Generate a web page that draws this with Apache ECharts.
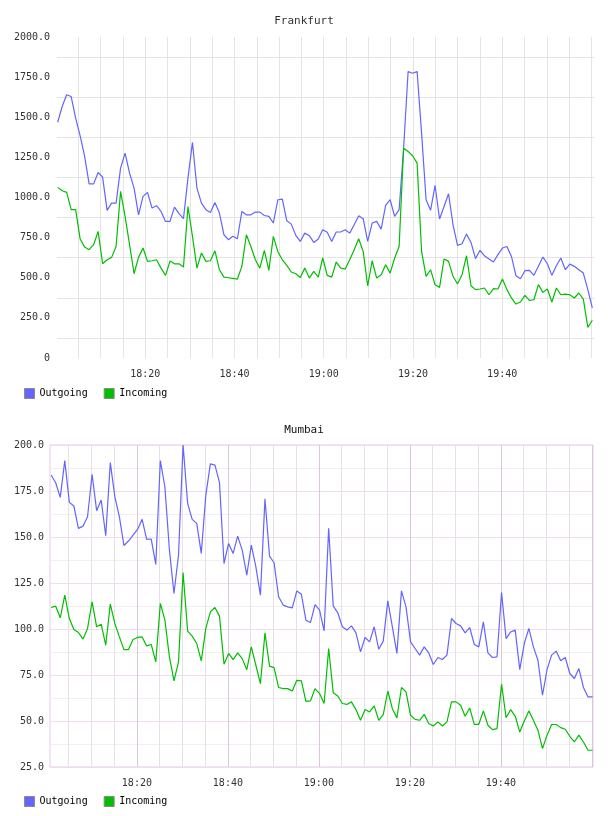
<!DOCTYPE html>
<html><head><meta charset="utf-8">
<script src="https://cdn.jsdelivr.net/npm/echarts@6/dist/echarts.min.js"></script>
<style>html,body{margin:0;padding:0;background:#fff}#c{width:608px;height:816px}</style>
</head><body><div id="c"></div>
<script>
// ---- data ----
const chartTitles = ['Frankfurt', 'Mumbai'];
const seriesNames = ['Outgoing', 'Incoming'];
const baseHour = 18;                       // axis minutes counted from 18:00
const xLabelMinutes = [20, 40, 60, 80, 100]; // 18:20 ... 19:40
const frankfurtStartMin = 0.38, frankfurtStepMin = 1.0069;
const mumbaiStartMin = 1.15, mumbaiStepMin = 1.0;
const frankfurtYRange = [0, 2000, 250];
const mumbaiYRange = [25, 200, 25];

const frankfurtOutgoing = [1469,1567,1640,1629,1494,1384,1256,1085,1085,1156,1127,920,965,965,1183,1276,1152,1058,892,1007,1032,934,949,913,851,851,940,899,868,1121,1343,1058,965,924,907,969,903,768,737,758,743,913,892,892,909,909,888,882,841,986,990,855,834,764,726,778,762,720,741,799,783,
726,785,785,799,778,830,886,868,726,841,851,803,951,986,882,924,1307,1785,1774,1785,1401,986,920,1075,866,944,1023,830,702,712,772,720,619,671,637,617,598,644,685,695,633,513,494,544,546,515,571,629,587,515,575,623,550,585,571,550,529,426,312];
const frankfurtIncoming = [1063,1042,1032,924,924,741,691,675,706,789,587,612,627,695,1038,882,706,525,627,685,602,606,612,560,515,604,587,587,567,944,758,560,654,602,606,668,550,504,500,496,492,571,768,695,612,560,670,546,758,664,612,577,536,525,502,560,498,540,504,623,515,
504,598,560,554,612,675,743,664,450,606,498,519,581,529,623,695,1307,1287,1260,1214,664,509,550,457,440,617,602,509,461,519,637,450,426,430,436,394,432,430,492,426,374,336,349,390,359,363,457,409,430,349,436,394,398,394,374,405,367,191,235];
const mumbaiOutgoing = [183.7,179.5,171.5,191.5,168.8,166.8,154.7,155.9,161.0,184.0,164.3,170.1,150.7,190.4,171.9,161.0,145.4,147.8,151.0,154.1,159.6,148.7,148.9,135.1,191.5,177.3,142.9,119.3,140.2,200.0,168.3,159.6,157.4,141.1,172.8,189.7,189.1,179.7,135.6,146.5,141.1,150.5,142.9,129.3,145.6,133.8,118.4,170.8,139.6,136.0,117.5,113.0,112.0,111.5,120.7,118.9,104.8,103.5,113.3,110.2,
99.0,154.7,112.6,108.8,101.2,99.4,101.7,97.9,87.6,95.4,93.0,101.2,89.0,93.4,115.3,101.2,86.7,120.7,112.0,93.0,89.4,85.8,90.3,87.0,80.7,84.5,83.4,85.8,105.7,103.0,101.7,97.9,100.8,91.6,90.3,103.9,87.0,84.5,84.8,119.8,94.8,98.4,99.4,77.9,92.1,100.3,90.3,83.0,64.0,77.9,85.8,88.0,82.7,84.5,75.8,73.1,78.5,68.2,63.1,63.1];
const mumbaiIncoming = [111.7,112.4,106.1,118.4,105.7,99.7,98.1,94.5,100.3,114.8,101.2,102.6,91.2,113.5,103.0,95.7,88.8,88.8,94.3,95.4,95.7,90.8,91.6,82.1,113.9,104.8,84.8,71.8,82.1,130.7,98.8,96.1,92.1,82.7,100.3,109.3,111.7,107.0,80.9,86.7,83.4,87.0,83.9,77.9,90.3,80.3,70.3,97.9,79.8,79.0,68.2,67.6,67.6,66.3,72.1,71.8,60.7,60.9,67.6,64.9,
59.5,89.4,65.4,63.6,59.5,59.0,60.4,56.2,50.4,56.2,54.9,58.2,50.4,53.5,66.3,56.7,51.7,68.2,65.8,53.1,50.9,50.4,53.6,48.6,47.3,49.5,47.3,49.5,60.4,60.4,58.6,52.6,57.1,48.2,48.2,55.5,47.7,45.3,45.9,70.0,51.8,56.2,52.7,44.0,50.0,55.5,50.4,45.0,35.0,42.3,48.1,48.1,46.4,45.5,41.7,38.6,42.3,38.6,34.1,34.1];

// ---- styling / layout ----
const FONT = 'DejaVu Sans Mono';
const BLUE = '#6464ff', GREEN = '#00bf00';
const gridMinutes = []; for (let m = 5; m <= 120; m += 5) gridMinutes.push(m);

function pairs(vals, start, step) { return vals.map((v, i) => [start + i * step, v]); }
function hhmm(m) {
  const h = baseHour + Math.floor(m / 60), mm = Math.round(m % 60);
  return h + ':' + (mm < 10 ? '0' : '') + mm;
}
function xAxis(gi, min, max, splitColors) {
  return {
    type: 'value', gridIndex: gi, min: min, max: max,
    axisLine: { show: false },
    axisTick: { show: false, customValues: gridMinutes },
    axisLabel: { customValues: xLabelMinutes, formatter: hhmm, margin: 11,
      fontFamily: FONT, fontSize: 10, color: '#333' },
    splitLine: { show: true, lineStyle: { color: splitColors, width: 1 } }
  };
}
function yAxis(gi, range, fmt, margin, major, minor) {
  return {
    type: 'value', gridIndex: gi, min: range[0], max: range[1], interval: range[2],
    axisLine: { show: false }, axisTick: { show: false },
    axisLabel: { formatter: fmt, margin: margin, fontFamily: FONT, fontSize: 10, color: '#333' },
    splitLine: { show: !!major, lineStyle: { color: major || '#fff', width: 1 } },
    minorTick: { show: false, splitNumber: 2 },
    minorSplitLine: { show: true, lineStyle: { color: minor, width: 1 } }
  };
}
function line(name, data, gi, color) {
  return { type: 'line', name: name, data: data, xAxisIndex: gi, yAxisIndex: gi,
    showSymbol: false, symbol: 'none', lineStyle: { color: color, width: 1.2 },
    itemStyle: { color: color }, animation: false };
}
function legend(top) {
  return { data: seriesNames, left: 24, top: top, padding: 0, icon: 'rect',
    itemWidth: 10, itemHeight: 10, itemGap: 16,
    itemStyle: { borderColor: '#8a8a8a', borderWidth: 1 },
    textStyle: { fontFamily: FONT, fontSize: 10, color: '#000' } };
}

const chart = echarts.init(document.getElementById('c'), null, { renderer: 'canvas' });
chart.setOption({
  animation: false,
  backgroundColor: '#fff',
  title: [
    { text: chartTitles[0], left: 'center', top: 16, padding: 0,
      textStyle: { fontFamily: FONT, fontSize: 11, fontWeight: 'normal', color: '#333' } },
    { text: chartTitles[1], left: 'center', top: 425, padding: 0,
      textStyle: { fontFamily: FONT, fontSize: 11, fontWeight: 'normal', color: '#111' } }
  ],
  legend: [legend(388), legend(796)],
  grid: [
    { left: 57, top: 37, width: 537, height: 321, show: false },
    { left: 50, top: 445, width: 543, height: 322, show: true, borderColor: '#e3cde4', borderWidth: 1 }
  ],
  xAxis: [
    xAxis(0, 0.226, 120.58, ['#e4e4e4']),
    xAxis(1, 0.9, 120.25, ['#e8e0e8', '#e8e0e8', '#e8e0e8', '#dcc6dd'])
  ],
  yAxis: [
    yAxis(0, frankfurtYRange, v => v === 0 ? '0' : v.toFixed(1), 7, null, '#e4e4e4'),
    yAxis(1, mumbaiYRange, v => v.toFixed(1), 6, '#efdcef', '#f1eff1')
  ],
  series: [
    line(seriesNames[0], pairs(frankfurtOutgoing, frankfurtStartMin, frankfurtStepMin), 0, BLUE),
    line(seriesNames[1], pairs(frankfurtIncoming, frankfurtStartMin, frankfurtStepMin), 0, GREEN),
    line(seriesNames[0], pairs(mumbaiOutgoing, mumbaiStartMin, mumbaiStepMin), 1, BLUE),
    line(seriesNames[1], pairs(mumbaiIncoming, mumbaiStartMin, mumbaiStepMin), 1, GREEN)
  ]
});
</script></body></html>
